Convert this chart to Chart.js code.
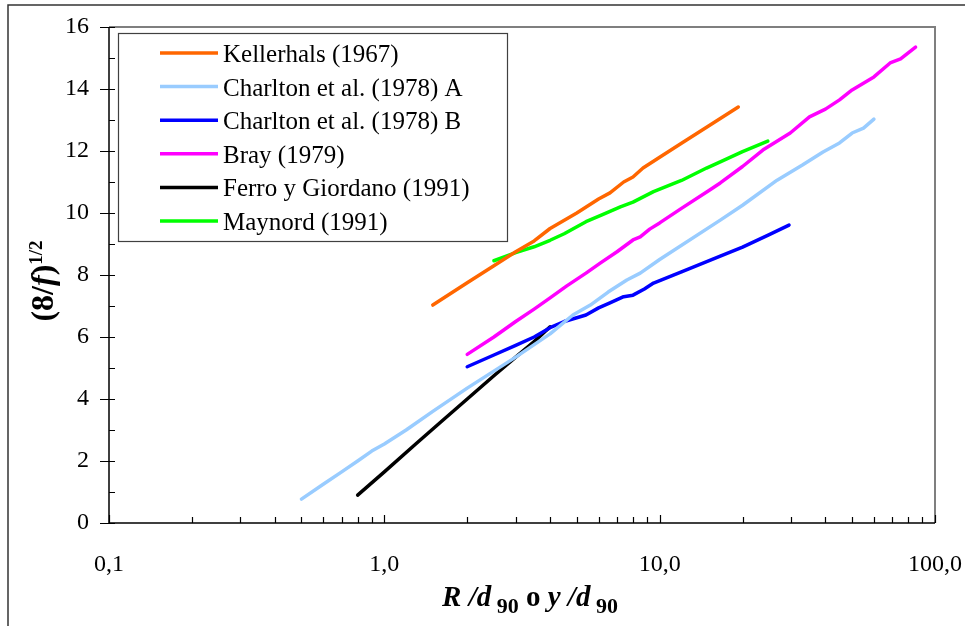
<!DOCTYPE html>
<html>
<head>
<meta charset="utf-8">
<script src="https://cdn.jsdelivr.net/npm/chart.js@4.4.1/dist/chart.umd.min.js"></script>
<style>
	body { margin: 0; background: #fff; }
	#grafico { display: block; }
</style>
</head>
<body>
<canvas id="grafico" width="965" height="626"></canvas>
<script>
// etiquetas de los ejes
const xTicks = [0.1, 1, 10, 100]
const yTicks = [0, 2, 4, 6, 8, 10, 12, 14, 16]

const nombres = [
	"Kellerhals (1967)",
	"Charlton et al. (1978) A",
	"Charlton et al. (1978) B",
	"Bray (1979)",
	"Ferro y Giordano (1991)",
	"Maynord (1991)"
]

// curvas (8/f)^1/2 frente a R/d90 o y/d90
const kellerhalsX = [1.5, 2, 2.5, 3, 3.5, 4, 5, 6, 6.6, 7.4, 8, 8.7, 10, 12, 15, 19.3]
const kellerhalsY = [7.03, 7.75, 8.3, 8.75, 9.1, 9.5, 10.0, 10.45, 10.65, 11.0, 11.16, 11.45, 11.8, 12.25, 12.8, 13.42]

const charltonAX = [0.5, 0.6, 0.7, 0.8, 0.9, 1.0, 1.2, 1.5, 2, 3, 4, 4.84, 5.6, 6.5, 7.6, 8.5, 10, 16.6, 20, 26.7, 33, 39.2, 45, 50, 55, 60]
const charltonAY = [0.77, 1.25, 1.65, 2.0, 2.32, 2.55, 3.0, 3.6, 4.35, 5.35, 6.1, 6.71, 7.03, 7.45, 7.84, 8.06, 8.5, 9.77, 10.25, 11.06, 11.55, 11.97, 12.26, 12.58, 12.74, 13.03]

const charltonBX = [2, 2.5, 3, 3.5, 4, 4.5, 5.4, 6, 6.6, 7.4, 8, 8.8, 9.5, 12, 16.6, 20, 25, 29.5]
const charltonBY = [5.04, 5.42, 5.73, 6.0, 6.3, 6.5, 6.71, 6.94, 7.1, 7.3, 7.35, 7.55, 7.74, 8.1, 8.61, 8.9, 9.3, 9.61]

const brayX = [2, 2.5, 3, 3.5, 4, 4.6, 5.4, 6.1, 7, 8, 8.5, 9.2, 10, 12, 15.2, 16.6, 20, 23.7, 29.8, 35, 40, 45, 50, 60, 68.7, 75, 85]
const brayY = [5.44, 6.0, 6.5, 6.9, 7.26, 7.65, 8.06, 8.39, 8.75, 9.13, 9.23, 9.48, 9.68, 10.15, 10.74, 10.97, 11.5, 12.03, 12.58, 13.1, 13.35, 13.65, 13.97, 14.39, 14.84, 14.97, 15.35]

const ferroX = [0.8, 1.0, 1.3, 1.6, 2, 2.5, 3, 3.5, 4]
const ferroY = [0.9, 1.65, 2.55, 3.25, 4.0, 4.75, 5.35, 5.85, 6.33]

const maynordX = [2.5, 3, 3.5, 4, 4.5, 5.4, 6.2, 7.2, 8, 9.5, 12, 14.8, 16.6, 20, 24.7]
const maynordY = [8.46, 8.72, 8.91, 9.12, 9.33, 9.72, 9.95, 10.2, 10.35, 10.69, 11.05, 11.45, 11.65, 11.98, 12.32]

const colores = ["#FF6600", "#99CCFF", "#0000FF", "#FF00FF", "#000000", "#00FF00"]

function puntos(xs, ys) {
	return xs.map((x, i) => ({ x: x, y: ys[i] }))
}

const series = [
	puntos(kellerhalsX, kellerhalsY),
	puntos(charltonAX, charltonAY),
	puntos(charltonBX, charltonBY),
	puntos(brayX, brayY),
	puntos(ferroX, ferroY),
	puntos(maynordX, maynordY)
]

const SERIF = '"Liberation Serif", "Times New Roman", serif'

// marco, ejes y marcas de los ejes (hacia dentro)
const marco = {
	id: "marco",
	afterDraw(chart) {
		const ctx = chart.ctx
		const a = chart.chartArea
		const sx = chart.scales.x
		const sy = chart.scales.y
		ctx.save()

		// borde exterior
		ctx.strokeStyle = "#333"
		ctx.lineWidth = 1.5
		ctx.beginPath()
		ctx.moveTo(8, 626)
		ctx.lineTo(8, 5)
		ctx.lineTo(965, 5)
		ctx.stroke()

		// borde superior y derecho del area de trazado
		ctx.strokeStyle = "#7f7f7f"
		ctx.lineWidth = 2
		ctx.beginPath()
		ctx.moveTo(a.left, a.top)
		ctx.lineTo(a.right, a.top)
		ctx.lineTo(a.right, a.bottom)
		ctx.stroke()

		// ejes
		ctx.strokeStyle = "#000"
		ctx.lineWidth = 1.5
		ctx.beginPath()
		ctx.moveTo(a.left, a.top)
		ctx.lineTo(a.left, a.bottom)
		ctx.lineTo(a.right, a.bottom)
		ctx.stroke()

		ctx.lineWidth = 1.2
		ctx.beginPath()
		for (let v = sy.min; v <= sy.max; v++) {
			const y = Math.round(sy.getPixelForValue(v)) + 0.5
			const mayor = v % 2 == 0
			ctx.moveTo(mayor ? a.left - 9 : a.left, y)
			ctx.lineTo(a.left + 6, y)
		}
		for (let d = sx.min; d < sx.max * 0.99; d *= 10) {
			for (let k = 1; k <= 9; k++) {
				const x = Math.round(sx.getPixelForValue(k * d)) + 0.5
				ctx.moveTo(x, a.bottom)
				ctx.lineTo(x, a.bottom - (k == 1 ? 8 : 6))
			}
		}
		const xf = Math.round(sx.getPixelForValue(sx.max)) + 0.5
		ctx.moveTo(xf, a.bottom)
		ctx.lineTo(xf, a.bottom - 8)
		ctx.stroke()

		ctx.restore()
	}
}

// leyenda en recuadro dentro del area de trazado
const leyenda = {
	id: "leyenda",
	afterDatasetsDraw(chart) {
		const ctx = chart.ctx
		const x0 = 118, y0 = 33, w = 389, h = 208
		ctx.save()
		ctx.fillStyle = "#fff"
		ctx.fillRect(x0, y0, w, h)
		ctx.strokeStyle = "#404040"
		ctx.lineWidth = 1.2
		ctx.strokeRect(x0 + 0.5, y0 + 0.5, w, h)
		ctx.font = "25px " + SERIF
		ctx.textBaseline = "alphabetic"
		chart.data.datasets.forEach((ds, i) => {
			const y = y0 + 20 + i * 33.6
			ctx.strokeStyle = ds.borderColor
			ctx.lineWidth = 3.5
			ctx.beginPath()
			ctx.moveTo(160, y)
			ctx.lineTo(218, y)
			ctx.stroke()
			ctx.fillStyle = "#000"
			ctx.fillText(ds.label, 223, y + 9)
		})
		ctx.restore()
	}
}

// dibuja trozos de texto seguidos, cada uno con su fuente y desplazamiento
function trozos(ctx, partes, cx, base) {
	let total = 0
	for (const p of partes) {
		ctx.font = p.f
		total += ctx.measureText(p.t).width
	}
	let x = cx - total / 2
	for (const p of partes) {
		ctx.font = p.f
		ctx.fillText(p.t, x, base + (p.dy || 0))
		x += ctx.measureText(p.t).width
	}
}

const titulos = {
	id: "titulos",
	afterDraw(chart) {
		const ctx = chart.ctx
		ctx.save()
		ctx.fillStyle = "#000"
		ctx.textBaseline = "alphabetic"
		ctx.textAlign = "left"

		const bi = "italic bold 29px " + SERIF
		const b = "bold 29px " + SERIF
		const sub = "bold 22px " + SERIF
		trozos(ctx, [
			{ t: "R /d", f: bi },
			{ t: " 90", f: sub, dy: 7 },
			{ t: " o ", f: b },
			{ t: "y /d", f: bi },
			{ t: " 90", f: sub, dy: 7 }
		], 530, 606)

		ctx.translate(53, 281)
		ctx.rotate(-Math.PI / 2)
		const yb = "bold 32px " + SERIF
		trozos(ctx, [
			{ t: "(8/", f: yb },
			{ t: "f", f: "italic bold 32px " + SERIF },
			{ t: ")", f: yb },
			{ t: "1/2", f: "bold 19px " + SERIF, dy: -11 }
		], 0, 0)
		ctx.restore()
	}
}

Chart.defaults.font.family = SERIF
Chart.defaults.color = "#000"

var grafico = new Chart(document.getElementById("grafico"), {
	type: "scatter",
	data: {
		datasets: series.map((s, i) => ({
			label: nombres[i],
			data: s,
			showLine: true,
			borderColor: colores[i],
			backgroundColor: colores[i],
			borderWidth: 3.5,
			pointRadius: 0,
			pointHoverRadius: 0,
			tension: 0,
			borderCapStyle: "round",
			borderJoinStyle: "round"
		}))
	},
	options: {
		responsive: false,
		animation: false,
		events: [],
		layout: { padding: { top: 27, right: 30, left: 0, bottom: 0 } },
		plugins: {
			legend: { display: false },
			tooltip: { enabled: false }
		},
		scales: {
			x: {
				type: "logarithmic",
				min: 0.1,
				max: 100,
				grid: { display: false, drawTicks: false },
				border: { display: false },
				afterBuildTicks: s => { s.ticks = xTicks.map(v => ({ value: v })) },
				afterFit: s => {
					s.height = 103
					s.paddingLeft = 0
					s.paddingRight = 0
				},
				ticks: {
					autoSkip: false,
					maxRotation: 0,
					padding: 27,
					font: { size: 24 },
					callback: v => Number(v).toFixed(1).replace(".", ",")
				}
			},
			y: {
				type: "linear",
				min: 0,
				max: 16,
				grid: { display: false, drawTicks: false },
				border: { display: false },
				afterBuildTicks: s => { s.ticks = yTicks.map(v => ({ value: v })) },
				afterFit: s => {
					s.width = 109
					s.paddingTop = 0
					s.paddingBottom = 0
				},
				ticks: {
					padding: 20,
					font: { size: 24 },
					callback: v => String(v)
				}
			}
		}
	},
	plugins: [leyenda, marco, titulos]
})
</script>
</body>
</html>
